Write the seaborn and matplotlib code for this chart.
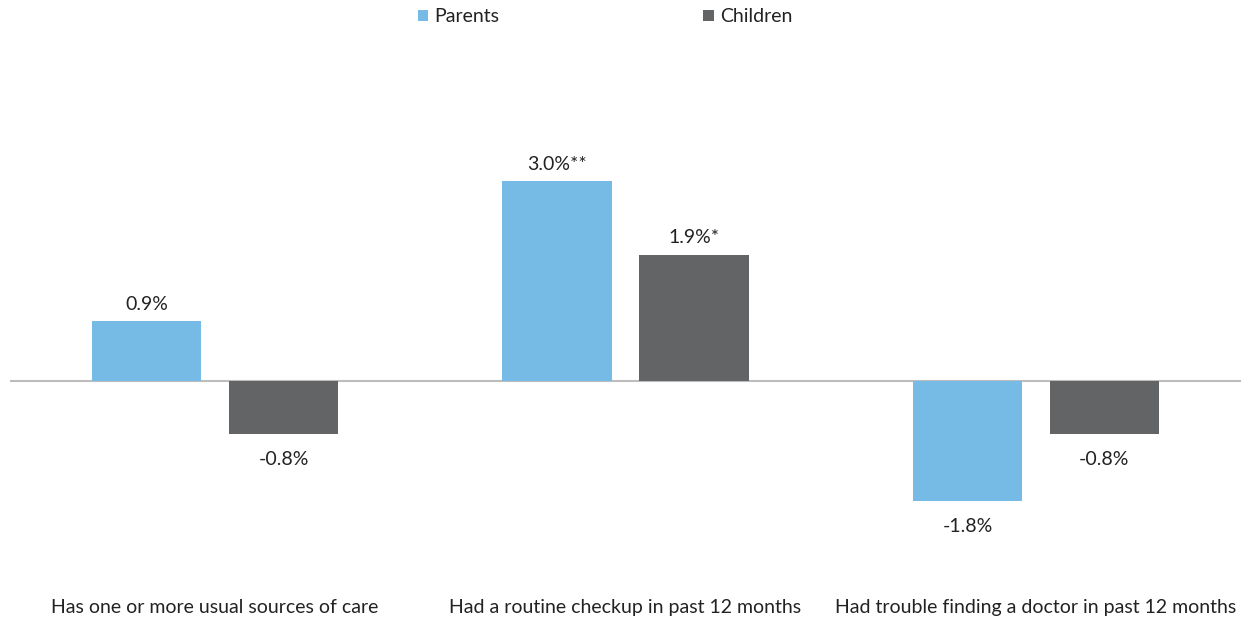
import matplotlib
matplotlib.use("Agg")
import matplotlib.pyplot as plt
from matplotlib.patches import Patch
import pandas as pd
import seaborn as sns

# Percentage-point changes by measure
categories = [
    "Has one or more usual sources of care",
    "Had a routine checkup in past 12 months",
    "Had trouble finding a doctor in past 12 months",
]
groups = ["Parents", "Children"]
parents = [0.9, 3.0, -1.8]
children = [-0.8, 1.9, -0.8]
parents_sig = ["", "**", ""]
children_sig = ["", "*", ""]

colors = {"Parents": "#76BBE6", "Children": "#626466"}
text_color = "#222222"

df = pd.DataFrame({
    "measure": categories * 2,
    "group": [groups[0]] * len(categories) + [groups[1]] * len(categories),
    "change": parents + children,
})

sns.set_theme(style="white")
plt.rcParams["font.family"] = ["Lato", "DejaVu Sans"]

fig = plt.figure(figsize=(12.41, 6.23), dpi=100)
ax = fig.add_axes([10 / 1241, 42 / 623, 1231 / 1241, 533 / 623])

sns.barplot(
    data=df, x="measure", y="change", hue="group",
    order=categories, hue_order=groups, palette=colors,
    width=0.667, gap=0.2, saturation=1, linewidth=0, legend=False, ax=ax,
)

ax.set_xlim(-0.5, 2.5)
ax.set_ylim(-3.0, 5.0)
ax.axhline(0, color="#BDBDBD", lw=1.5, zorder=0)

# Value labels: above positive bars, below negative ones
for container, vals, sig in zip(ax.containers, [parents, children],
                                [parents_sig, children_sig]):
    for bar, v, s in zip(container, vals, sig):
        x = bar.get_x() + bar.get_width() / 2
        if v >= 0:
            ax.annotate(f"{v:.1f}%{s}", (x, v), xytext=(0, 6),
                        textcoords="offset points", ha="center", va="bottom",
                        fontsize=14, color=text_color)
        else:
            ax.annotate(f"{v:.1f}%{s}", (x, v), xytext=(0, -12),
                        textcoords="offset points", ha="center", va="top",
                        fontsize=14, color=text_color)

ax.set_xlabel("")
ax.set_ylabel("")
ax.set_yticks([])
ax.tick_params(axis="x", length=0, pad=13, labelsize=14, labelcolor=text_color)
for s in ax.spines.values():
    s.set_visible(False)

handles = [Patch(facecolor=colors[g], edgecolor="none") for g in groups]
fig.legend(handles, groups, loc="center", bbox_to_anchor=(605 / 1241, 1 - 17 / 623),
           ncol=2, frameon=False, fontsize=14, handlelength=0.55, handleheight=0.55,
           handletextpad=0.3, columnspacing=10.5, labelcolor=text_color)

fig.savefig("out.png", dpi=100)
